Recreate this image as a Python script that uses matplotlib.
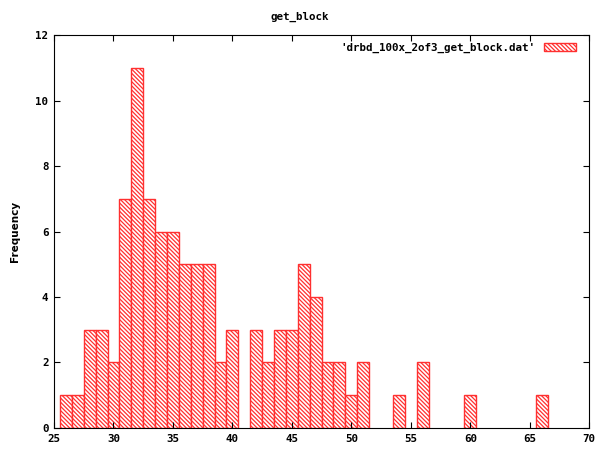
import matplotlib
matplotlib.use("Agg")
import matplotlib.pyplot as plt

# histogram of get_block latency (bin centre -> count)
bin_centres = [26, 27, 28, 29, 30, 31, 32, 33, 34, 35, 36, 37, 38, 39, 40,
               42, 43, 44, 45, 46, 47, 48, 49, 50, 51,
               54, 56, 60, 66]
counts = [1, 1, 3, 3, 2, 7, 11, 7, 6, 6, 5, 5, 5, 2, 3,
          3, 2, 3, 3, 5, 4, 2, 2, 1, 2,
          1, 2, 1, 1]
x_ticks = [25, 30, 35, 40, 45, 50, 55, 60, 65, 70]
y_ticks = [0, 2, 4, 6, 8, 10, 12]
series_label = "'drbd_100x_2of3_get_block.dat'"

mono = "DejaVu Sans Mono"
plt.rcParams["hatch.linewidth"] = 0.9

fig = plt.figure(figsize=(6, 4.5), dpi=100)
ax = fig.add_axes([0.09, 0.049, 0.892, 0.873])

ax.bar(bin_centres, counts, width=1.0, facecolor="white", edgecolor="#ff3030",
       hatch="\\" * 8, linewidth=1.0, label=series_label)

ax.set_xlim(25, 70)
ax.set_ylim(0, 12)
ax.set_xticks(x_ticks)
ax.set_yticks(y_ticks)
ax.tick_params(direction="in", top=True, right=True, length=4, width=0.8,
               labelsize=7.8, pad=4)
for lbl in ax.get_xticklabels() + ax.get_yticklabels():
    lbl.set_fontfamily(mono)
    lbl.set_fontweight("bold")
for side in ax.spines.values():
    side.set_linewidth(0.8)

ax.set_ylabel("Frequency", fontsize=7.5, fontweight="bold", labelpad=11)
fig.text(0.5, 0.963, "get_block", ha="center", va="center",
         family=mono, fontweight="bold", fontsize=7.8)

leg = ax.legend(loc="upper right", bbox_to_anchor=(0.99, 1.0), frameon=False,
                markerfirst=False,
                prop={"family": mono, "weight": "bold", "size": 7.8},
                handlelength=3.0, handleheight=0.75, borderaxespad=0.3,
                handletextpad=0.8)

fig.savefig("out.png", dpi=100)
